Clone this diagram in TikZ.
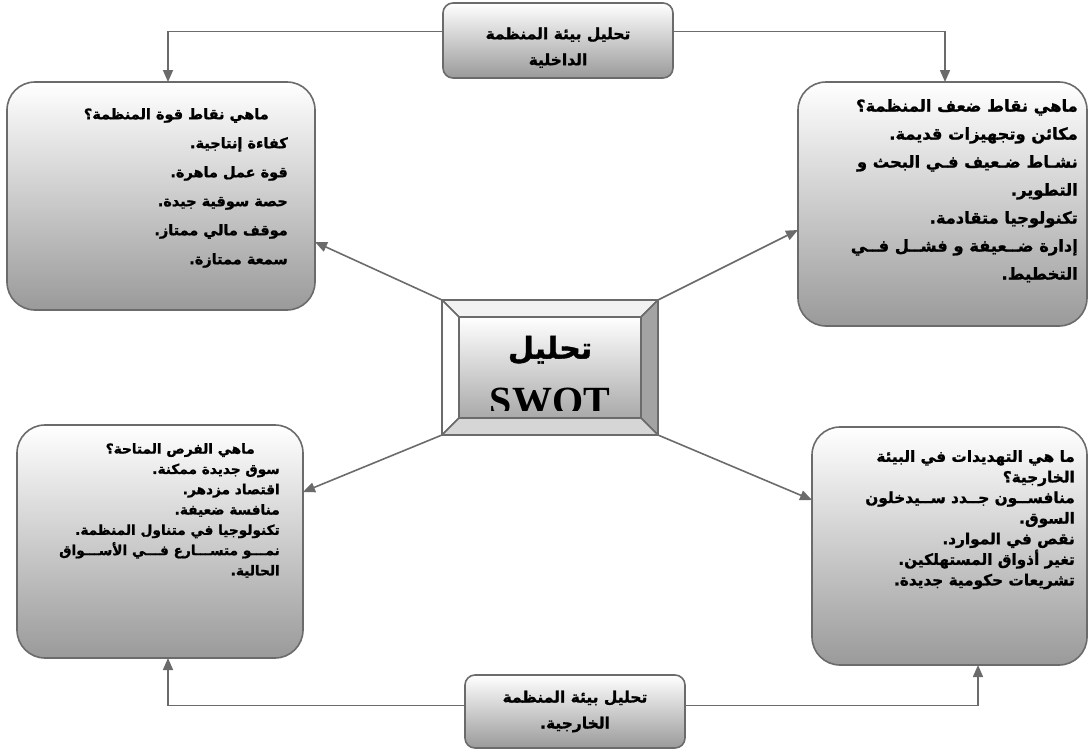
\documentclass[tikz,border=0pt]{standalone}
\usepackage{fontspec}
\setmainfont{Liberation Sans}
\newfontfamily\arabicfont[Script=Arabic, BoldFeatures={FakeBold=1.3}]{DejaVu Sans}
\newfontfamily\swotfont{Liberation Serif}
\TeXXeTstate=1
\usetikzlibrary{arrows.meta}

% one right-to-left line
\newcommand\arline[1]{\beginR#1\endR}

\definecolor{edge}{HTML}{6B6B6B}
\definecolor{shadebot}{HTML}{9A9A9A}
\definecolor{bevtop}{HTML}{F2F2F2}
\definecolor{bevright}{HTML}{A3A3A3}
\definecolor{bevbottom}{HTML}{D6D6D6}

\tikzset{
  panel/.style={draw=edge, line width=1.6pt, rounded corners=28pt,
    top color=white, bottom color=shadebot,
    anchor=north west, inner sep=0pt, outer sep=0pt},
  tagbox/.style={panel, rounded corners=10pt, align=center,
    font=\arabicfont\bfseries\fontsize{15.5}{26}\selectfont},
  txt/.style={anchor=north east, inner sep=0pt, align=right},
  link/.style={draw=edge, line width=1.6pt, -{Triangle[length=12pt,width=10pt]}},
  bevel/.style={draw=edge, line width=1.6pt, line join=round},
}

\begin{document}
\begin{tikzpicture}[x=1pt,y=-1pt]
\useasboundingbox (0,0) rectangle (1090,755);

% the four quadrant panels
\node[panel, minimum width=308pt, minimum height=228pt] (tl) at (7,82) {};
\node[panel, minimum width=289pt, minimum height=244pt] (tr) at (798,82) {};
\node[panel, minimum width=286pt, minimum height=233pt] (bl) at (17,425) {};
\node[panel, minimum width=275pt, minimum height=238pt] (br) at (812,427) {};

% internal / external environment tags
\node[tagbox, minimum width=230pt, minimum height=75pt] (intern) at (443,3)
  {\arline{تحليل بيئة المنظمة}\rule{0pt}{26pt}\\\arline{الداخلية}};
\node[tagbox, minimum width=220pt, minimum height=73pt] (extern) at (465,675)
  {\arline{تحليل بيئة المنظمة}\\\arline{الخارجية.}};

% bevelled centre block
\node[draw=edge, line width=1.6pt, minimum width=216pt, minimum height=135pt,
      anchor=north west, inner sep=0pt, outer sep=0pt] (swot) at (442,300) {};
\coordinate (iNW) at (459,317);
\coordinate (iNE) at (641,317);
\coordinate (iSE) at (641,418);
\coordinate (iSW) at (459,418);
\filldraw[bevel, fill=bevtop] (swot.north west) -- (swot.north east) -- (iNE) -- (iNW) -- cycle;
\filldraw[bevel, fill=white] (swot.north west) -- (iNW) -- (iSW) -- (swot.south west) -- cycle;
\filldraw[bevel, fill=bevright] (swot.north east) -- (swot.south east) -- (iSE) -- (iNE) -- cycle;
\filldraw[bevel, fill=bevbottom] (swot.south west) -- (iSW) -- (iSE) -- (swot.south east) -- cycle;
\node[draw=edge, line width=1.6pt, top color=white, bottom color=shadebot!85,
      minimum width=182pt, minimum height=101pt, anchor=north west,
      inner sep=0pt, outer sep=0pt] (face) at (iNW) {};
\begin{scope}
  \clip (459,317) rectangle (641,410);
  \node[inner sep=0pt, font=\arabicfont\bfseries\fontsize{30}{34}\selectfont]
    (swotar) at (550,350) {\arline{تحليل}};
  \node[inner sep=0pt, anchor=base, font=\swotfont\bfseries\fontsize{40}{40}\selectfont]
    (swotlat) at (550,414) {SWOT};
\end{scope}

% panel texts
\node[txt, font=\arabicfont\bfseries\fontsize{14.5}{29}\selectfont] (tlt) at (288,108) {%
  \arline{ماهي نقاط قوة المنظمة؟}\hspace*{19pt}\\
  \arline{كفاءة إنتاجية.}\\
  \arline{قوة عمل ماهرة.}\\
  \arline{حصة سوقية جيدة.}\\
  \arline{موقف مالي ممتاز.}\\
  \arline{سمعة ممتازة.}};

\node[txt, font=\arabicfont\bfseries\fontsize{16.3}{28}\selectfont] (trt) at (1078,99) {%
  \arline{ماهي نقاط ضعف المنظمة؟}\\
  \arline{مكائن وتجهيزات قديمة.}\\
  \arline{نشـاط ضـعيف فـي البحث و}\\
  \arline{التطوير.}\\
  \arline{تكنولوجيا متقادمة.}\\
  \arline{إدارة ضــعيفة و فشــل فــي}\\
  \arline{التخطيط.}};

\node[txt, font=\arabicfont\bfseries\fontsize{13.7}{20.3}\selectfont] (blt) at (280,443) {%
  \arline{ماهي الفرص المتاحة؟}\hspace*{25pt}\\
  \arline{سوق جديدة ممكنة.}\\
  \arline{اقتصاد مزدهر.}\\
  \arline{منافسة ضعيفة.}\\
  \arline{تكنولوجيا في متناول المنظمة.}\\
  \arline{نمـــو متســـارع فـــي الأســـواق}\\
  \arline{الحالية.}};

\node[txt, font=\arabicfont\bfseries\fontsize{15.3}{20.6}\selectfont] (brt) at (1075,450) {%
  \arline{ما هي التهديدات في البيئة}\\
  \arline{الخارجية؟}\hspace*{40pt}\\
  \arline{منافســون جــدد ســيدخلون}\\
  \arline{السوق.}\\
  \arline{نقص في الموارد.}\\
  \arline{تغير أذواق المستهلكين.}\\
  \arline{تشريعات حكومية جديدة.}};

% environment tags feed the panels
\draw[link] ([yshift=9pt]intern.west) -| ([xshift=7pt]tl.north);
\draw[link] ([yshift=9pt]intern.east) -| ([xshift=2.5pt]tr.north);
\draw[link] ([yshift=6pt]extern.west) -| ([xshift=8pt]bl.south);
\draw[link] ([yshift=6pt]extern.east) -| ([xshift=28.5pt]br.south);

% centre block to the four panels
\draw[link] (swot.north west) -- ([yshift=-46pt]tl.east);
\draw[link] (swot.north east) -- ([yshift=-26pt]tr.west);
\draw[link] (swot.south west) -- ([yshift=49.5pt]bl.east);
\draw[link] (swot.south east) -- ([yshift=46pt]br.west);
\end{tikzpicture}
\end{document}
